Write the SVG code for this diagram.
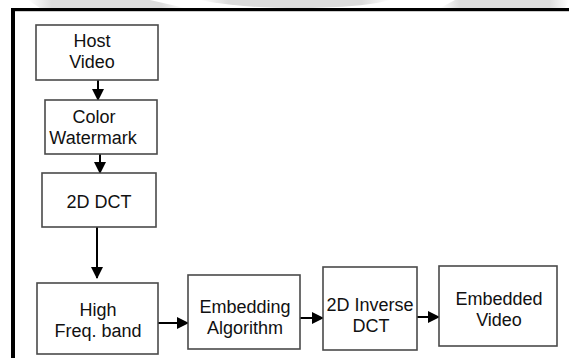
<svg xmlns="http://www.w3.org/2000/svg" width="569" height="358" viewBox="0 0 569 358">
<defs>
<style>
.box{fill:#fff;stroke:#4a4a4a;stroke-width:1.6}
.t{font-family:"Liberation Sans",Arial,sans-serif;font-size:18px;fill:#111;text-anchor:middle}
.c{stroke:#000;stroke-width:2;fill:none}
</style>
<marker id="ah" markerWidth="12" markerHeight="12" viewBox="0 0 12 12" refX="11" refY="6" orient="auto" markerUnits="userSpaceOnUse">
<path d="M0,0 L12,6 L0,12 Z" fill="#000"/>
</marker>
<linearGradient id="g1" x1="0" x2="1" y1="0" y2="0">
<stop offset="0" stop-color="#fff"/><stop offset="0.15" stop-color="#dcdcdc"/><stop offset="0.85" stop-color="#dcdcdc"/><stop offset="1" stop-color="#fff"/>
</linearGradient>
</defs>
<rect width="569" height="358" fill="#fff"/>
<g id="band">
<polygon points="28,0 150,0 185,8 40,8" fill="url(#g1)"/>
<path d="M200,0 L390,0 C370,6 330,8 300,8 C260,8 230,6 200,0 Z" fill="url(#g1)"/>
<polygon points="455,0 569,0 565,8 440,8" fill="url(#g1)"/>
</g>
<g id="frame">
<rect x="11" y="8" width="558" height="3.2" fill="#000"/>
<rect x="11" y="8" width="4" height="350" fill="#000"/>
</g>
<g id="connectors">
<line class="c" x1="98" y1="80" x2="98" y2="100" marker-end="url(#ah)"/>
<line class="c" x1="100" y1="154" x2="100" y2="173" marker-end="url(#ah)"/>
<line class="c" x1="97" y1="227" x2="97" y2="278" marker-end="url(#ah)"/>
<line class="c" x1="158" y1="323" x2="188" y2="323" marker-end="url(#ah)"/>
<line class="c" x1="300" y1="318" x2="323" y2="318" marker-end="url(#ah)"/>
<line class="c" x1="417" y1="317" x2="439" y2="317" marker-end="url(#ah)"/>
</g>
<g id="host">
<rect class="box" x="36" y="25" width="122" height="55"/>
<text class="t" x="92" y="47">Host</text>
<text class="t" x="92" y="68">Video</text>
</g>
<g id="watermark">
<rect class="box" x="45" y="100" width="112" height="54"/>
<text class="t" x="94" y="123">Color</text>
<text class="t" x="93" y="144">Watermark</text>
</g>
<g id="dct">
<rect class="box" x="42" y="173" width="114" height="54"/>
<text class="t" x="99" y="208">2D DCT</text>
</g>
<g id="high">
<rect class="box" x="37" y="283" width="121" height="71"/>
<text class="t" x="98" y="316">High</text>
<text class="t" x="98" y="337">Freq. band</text>
</g>
<g id="embedding">
<rect class="box" x="188" y="275" width="112" height="74"/>
<text class="t" x="245" y="313">Embedding</text>
<text class="t" x="245" y="334">Algorithm</text>
</g>
<g id="inverse">
<rect class="box" x="323" y="267" width="94" height="83"/>
<text class="t" x="370" y="311">2D Inverse</text>
<text class="t" x="371" y="332">DCT</text>
</g>
<g id="embedded">
<rect class="box" x="439" y="266" width="118" height="80"/>
<text class="t" x="499" y="305">Embedded</text>
<text class="t" x="499" y="326">Video</text>
</g>
</svg>
